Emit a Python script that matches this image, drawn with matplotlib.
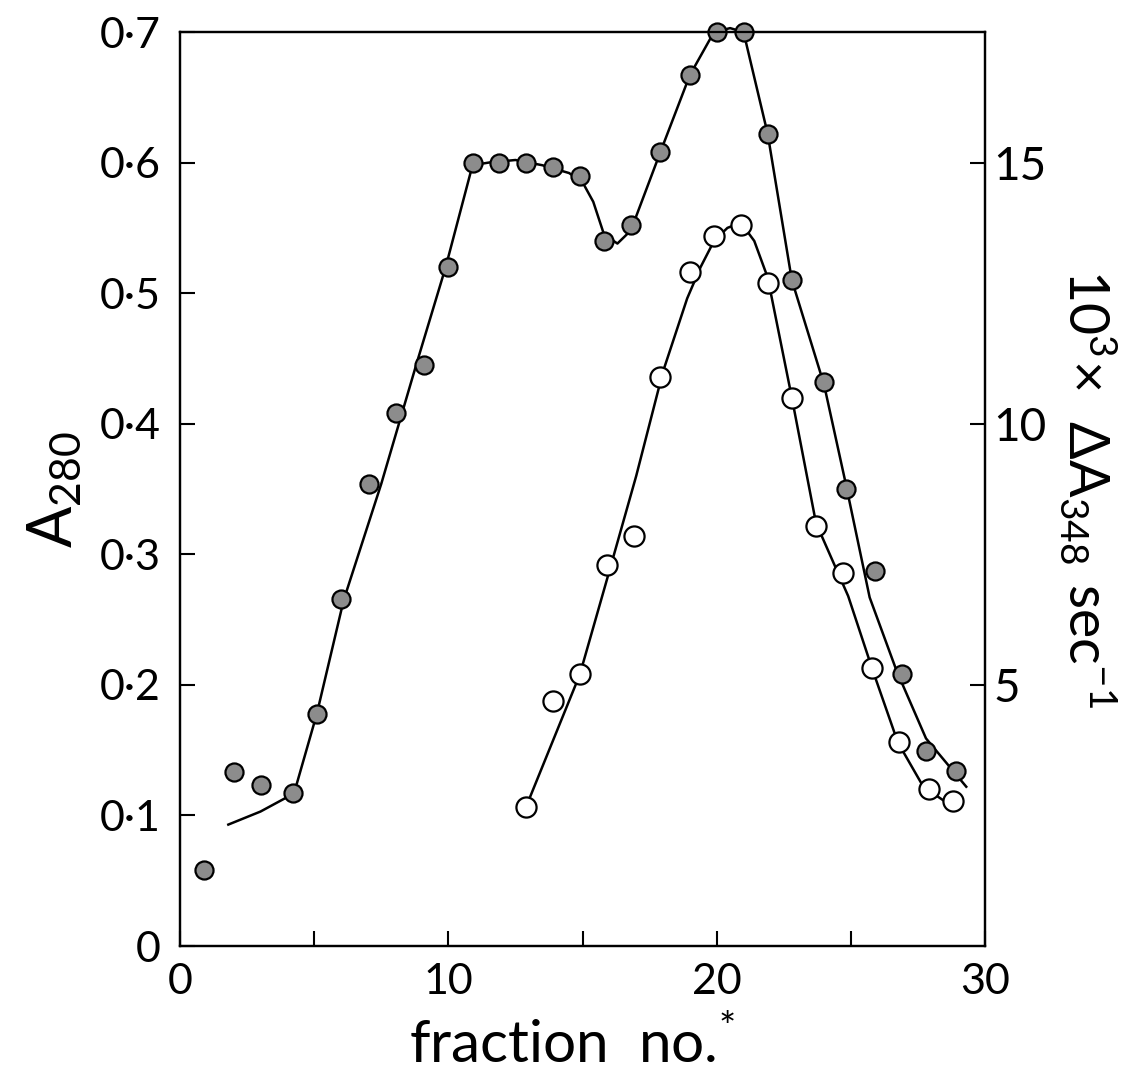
import matplotlib
matplotlib.use("Agg")
import matplotlib.pyplot as plt

plt.rcParams['font.family'] = ['Lato', 'DejaVu Sans']
plt.rcParams['mathtext.default'] = 'regular'

# A280 (filled circles, left axis)
fr_a280 = [0.9, 2.0, 3.0, 4.2, 5.1, 6.0, 7.05, 8.05, 9.1, 10.0, 10.9, 11.9, 12.9, 13.9, 14.9,
           15.8, 16.8, 17.9, 19.0, 20.0, 21.0, 21.9, 22.8, 24.0, 24.8, 25.9, 26.9, 27.8, 28.9]
a280 = [0.058, 0.133, 0.123, 0.117, 0.178, 0.266, 0.354, 0.408, 0.445, 0.52, 0.60, 0.60, 0.60,
        0.597, 0.59, 0.54, 0.552, 0.608, 0.667, 0.70, 0.70, 0.622, 0.51, 0.432, 0.35, 0.287,
        0.208, 0.149, 0.134]

# hand drawn curve through the A280 points
a280_fit_x = [1.8, 3.0, 3.9, 4.25, 5.1, 6.1, 7.5, 8.8, 9.9, 10.9, 11.5, 12.5, 13.5, 14.5, 15.0,
              15.4, 15.8, 16.3, 16.8, 17.9, 19.0, 19.9, 20.5, 21.0, 21.9, 22.8, 24.0, 24.8, 25.7,
              26.7, 27.8, 29.3]
a280_fit = [0.093, 0.103, 0.113, 0.117, 0.178, 0.265, 0.354, 0.445, 0.52, 0.598, 0.600, 0.602,
            0.598, 0.592, 0.585, 0.57, 0.545, 0.538, 0.548, 0.608, 0.667, 0.700, 0.703, 0.700,
            0.622, 0.51, 0.43, 0.355, 0.267, 0.211, 0.159, 0.122]

# 10^3 x dA348/sec (open circles, right axis)
fr_rate = [12.9, 13.9, 14.9, 15.9, 16.9, 17.9, 19.0, 19.9, 20.9, 21.9, 22.8, 23.7, 24.7, 25.8,
           26.8, 27.9, 28.8]
rate = [2.67, 4.7, 5.2, 7.3, 7.85, 10.9, 12.9, 13.6, 13.8, 12.7, 10.5, 8.05, 7.14, 5.33, 3.9,
        3.0, 2.77]

rate_fit_x = [12.9, 14.9, 15.9, 17.0, 18.0, 18.9, 19.4, 19.9, 20.4, 20.9, 21.4, 21.9, 22.8, 23.7,
              24.9, 25.8, 26.75, 27.7, 28.7]
rate_fit = [2.67, 5.2, 7.0, 9.0, 11.0, 12.4, 13.0, 13.5, 13.75, 13.85, 13.5, 12.8, 10.5, 8.1,
            6.7, 5.3, 3.9, 3.05, 2.7]

left_ticks = [0, 0.1, 0.2, 0.3, 0.4, 0.5, 0.6, 0.7]
left_labels = ['0', '0·1', '0·2', '0·3', '0·4', '0·5', '0·6', '0·7']
right_ticks = [5, 10, 15]
x_ticks = [0, 5, 10, 15, 20, 25, 30]
x_labels = ['0', '', '10', '', '20', '', '30']

fig = plt.figure(figsize=(11.43, 10.86), dpi=100)
ax = fig.add_axes([0.1575, 0.1289, 0.7043, 0.8416])
ax2 = ax.twinx()

lw = 1.8
ax.plot(a280_fit_x, a280_fit, color='black', lw=lw, zorder=2, clip_on=False)
ax.plot(fr_a280, a280, 'o', ms=13, mfc='#8c8c8c', mec='black', mew=1.6, zorder=3,
        clip_on=False)
ax2.plot(rate_fit_x, rate_fit, color='black', lw=lw, zorder=2)
ax2.plot(fr_rate, rate, 'o', ms=14.5, mfc='white', mec='black', mew=1.6, zorder=3)

ax.set_xlim(0, 30)
ax.set_ylim(0, 0.7)
ax2.set_ylim(0, 17.5)

ax.set_xticks(x_ticks)
ax.set_xticklabels(x_labels)
ax.set_yticks(left_ticks)
ax.set_yticklabels(left_labels)
ax2.set_yticks(right_ticks)

ax.tick_params(axis='both', direction='in', length=11, width=1.5, labelsize=31)
ax.tick_params(axis='x', pad=12)
ax.tick_params(axis='y', pad=14)
ax2.tick_params(axis='y', direction='in', length=11, width=1.5, labelsize=33, pad=6)

for a in (ax, ax2):
    for s in a.spines.values():
        s.set_linewidth(1.6)

# x label placed on its own so the superscript star does not push it around
fig.text(0.5, 0.012, 'fraction  no.$^{*}$', fontsize=42, ha='center', va='bottom')
ax.set_ylabel('$A_{280}$', fontsize=44, labelpad=12)
ax2.set_ylabel(r'$10^{3}\!\times\ \Delta A_{348}\ sec^{-1}$', fontsize=40,
               rotation=-90, labelpad=52)

fig.savefig('out.png', dpi=100)
